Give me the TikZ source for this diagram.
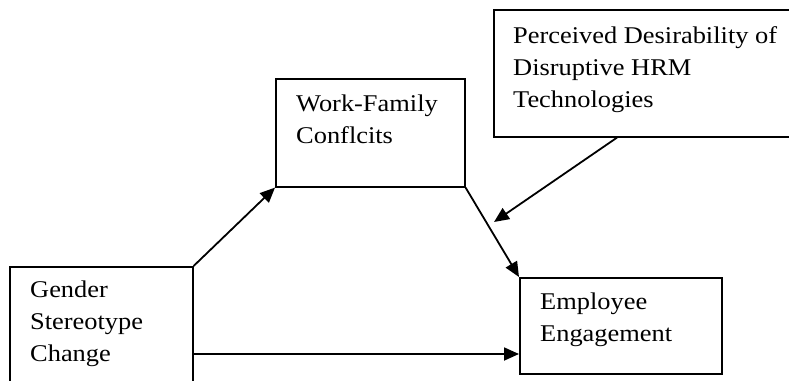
\documentclass[tikz,border=0pt]{standalone}
\usepackage{fontspec}
\setmainfont[FakeStretch=1.1]{Liberation Serif}
\usetikzlibrary{arrows.meta,calc}
\begin{document}
\begin{tikzpicture}[x=1pt,y=-1pt,
  box/.style={draw,line width=1.6pt,rectangle,inner sep=0pt,anchor=north west},
  txt/.style={inner sep=0pt,anchor=north west,align=left,font=\fontsize{24}{32}\selectfont},
  conn/.style={line width=1.8pt,-{Triangle[length=15pt,width=13pt]}}]
\useasboundingbox (0,0) rectangle (789,380);
\fill[white] (0,0) rectangle (789,380);
\clip (0,0) rectangle (789,380);
\node[box,minimum width=183pt,minimum height=140pt] (gsc) at (9,266) {};
\node[txt] (gsct) at (30,281) {Gender\\Stereotype\\Change};
\node[box,minimum width=189pt,minimum height=108pt] (wf) at (275,78) {};
\node[txt] (wft) at (296,95) {Work-Family\\Conflcits};
\node[box,minimum width=320pt,minimum height=127pt] (pd) at (493,9) {};
\node[txt] (pdt) at (513,26) {Perceived Desirability of\\Disruptive HRM\\Technologies};
\node[box,minimum width=202pt,minimum height=96pt] (ee) at (519,277) {};
\node[txt] (eet) at (540,293) {Employee\\Engagement};
\coordinate (pdout) at ($(pd.south west)+(124,0)$);
\coordinate (tip) at (494,222);
\coordinate (hstart) at ($(gsc.north east)+(0,88)$);
\draw[conn] (gsc.north east) -- (wf.south west);
\draw[conn] (wf.south east) -- (ee.north west);
\draw[conn] (pdout) -- (tip);
\draw[conn] (hstart) -- (ee.west |- hstart);
\end{tikzpicture}
\end{document}
